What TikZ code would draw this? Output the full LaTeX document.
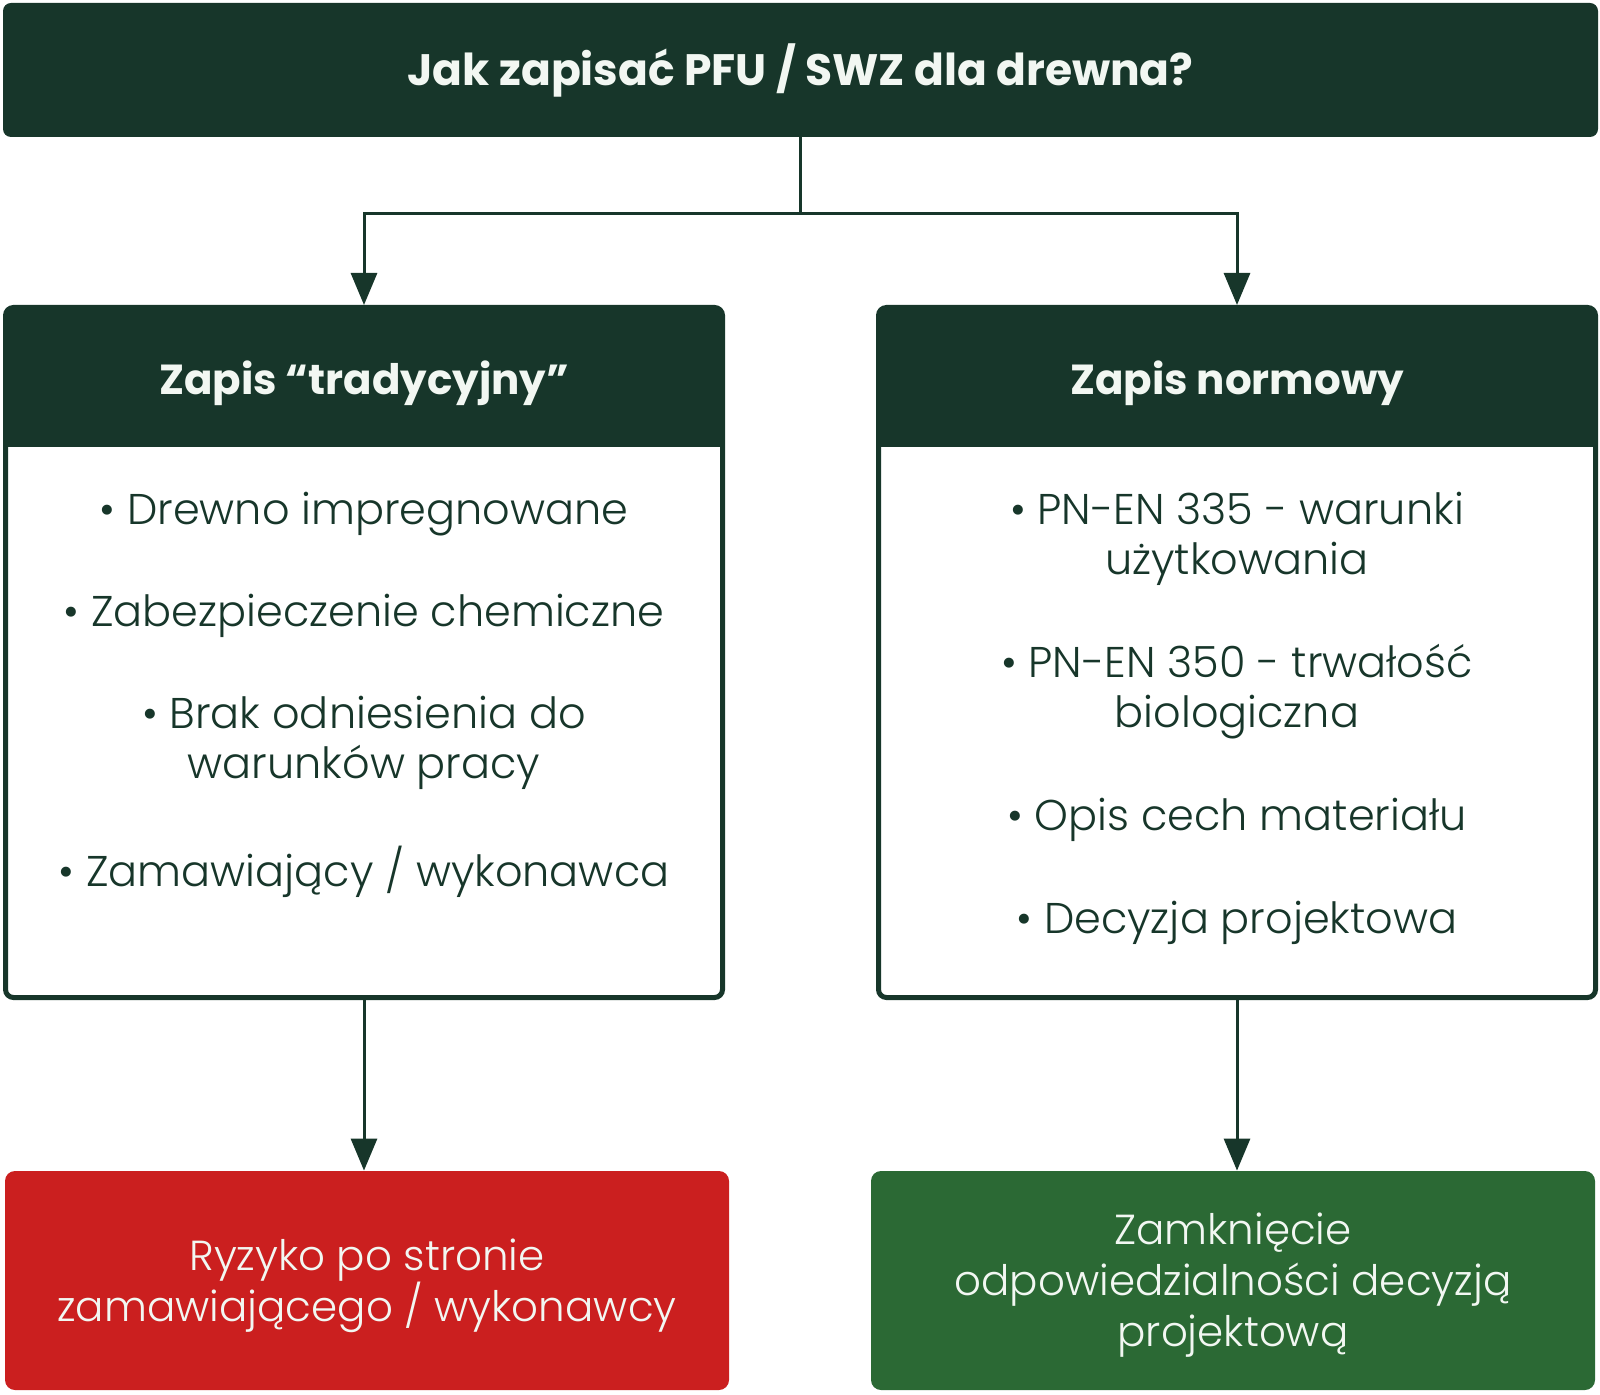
\documentclass[tikz,border=0pt]{standalone}
\usepackage{fontspec}
\setmainfont{Poppins Light}[BoldFont=Poppins Bold]
\usetikzlibrary{arrows.meta,positioning}
\definecolor{forest}{HTML}{17362A}
\definecolor{alarm}{HTML}{CB1F1F}
\definecolor{leaf}{HTML}{2B6934}
\definecolor{paper}{HTML}{F2F7F2}

\begin{document}
\begin{tikzpicture}[
x=0.5pt,y=-0.5pt,
every node/.style={inner sep=0pt},
titlebox/.style={rectangle,rounded corners=4pt,fill=forest,text=paper,
  font=\bfseries\fontsize{22}{26}\selectfont,minimum width=797.5pt,minimum height=67pt},
card/.style={rectangle,rounded corners=4pt,draw=forest,line width=2.5pt,fill=white,
  minimum width=358.5pt,minimum height=345pt},
headtext/.style={text=paper,font=\bfseries\fontsize{21}{25}\selectfont},
item/.style={text=forest,align=center,font=\fontsize{21.5}{25}\selectfont},
result/.style={rectangle,rounded corners=5pt,minimum width=362pt,minimum height=109.5pt},
resulttext/.style={text=paper,align=center,font=\fontsize{21}{25.5}\selectfont},
link/.style={draw=forest,line width=1.5pt,-{Triangle[width=13pt,length=16pt]}},
]
\useasboundingbox (0,0) rectangle (1600,1395);

% top question
\node[titlebox] (title) at (800.5,70) {Jak zapisać PFU / SWZ dla drewna?};

% the two ways of writing it
\node[card] (trad) at (364,652.5) {};
\fill[forest,rounded corners=4pt] (5.5,307.5) rectangle (722.5,420);
\fill[forest] (5.5,380) rectangle (722.5,447);
\node[headtext] (tradhead) at (364,383) {Zapis “tradycyjny”};

\node[card] (norm) at (1237,652.5) {};
\fill[forest,rounded corners=4pt] (878.5,307.5) rectangle (1595.5,420);
\fill[forest] (878.5,380) rectangle (1595.5,447);
\node[headtext] (normhead) at (1237,383) {Zapis normowy};

% items
\node[item] (trad1) at (364,514) {• Drewno impregnowane};
\node[item] (trad2) at (364,616) {• Zabezpieczenie chemiczne};
\node[item] (trad3) at (364,743) {• Brak odniesienia do\\warunków pracy};
\node[item] (trad4) at (364,871.5) {• Zamawiający / wykonawca};

\node[item] (norm1) at (1237,539) {• PN-EN 335 - warunki\\użytkowania};
\node[item] (norm2) at (1237,692) {• PN-EN 350 - trwałość\\biologiczna};
\node[item] (norm3) at (1237,820) {• Opis cech materiału};
\node[item] (norm4) at (1237,922.5) {• Decyzja projektowa};

% outcomes
\node[result,fill=alarm] (risk) at (367,1280.5) {};
\node[resulttext] (risktext) at ([yshift=-2.5pt]risk.center) {Ryzyko po stronie\\zamawiającego / wykonawcy};
\node[result,fill=leaf] (closure) at (1233,1280.5) {};
\node[resulttext] (closuretext) at ([yshift=-2.5pt]closure.center) {Zamknięcie\\odpowiedzialności decyzją\\projektową};

% connectors
\draw[link] (title.south) -- ++(0,76) -| (trad.north);
\draw[link] (title.south) -- ++(0,76) -| (norm.north);
\draw[link] (trad.south) -- (trad.south |- risk.north);
\draw[link] (norm.south) -- (norm.south |- closure.north);
\end{tikzpicture}
\end{document}
